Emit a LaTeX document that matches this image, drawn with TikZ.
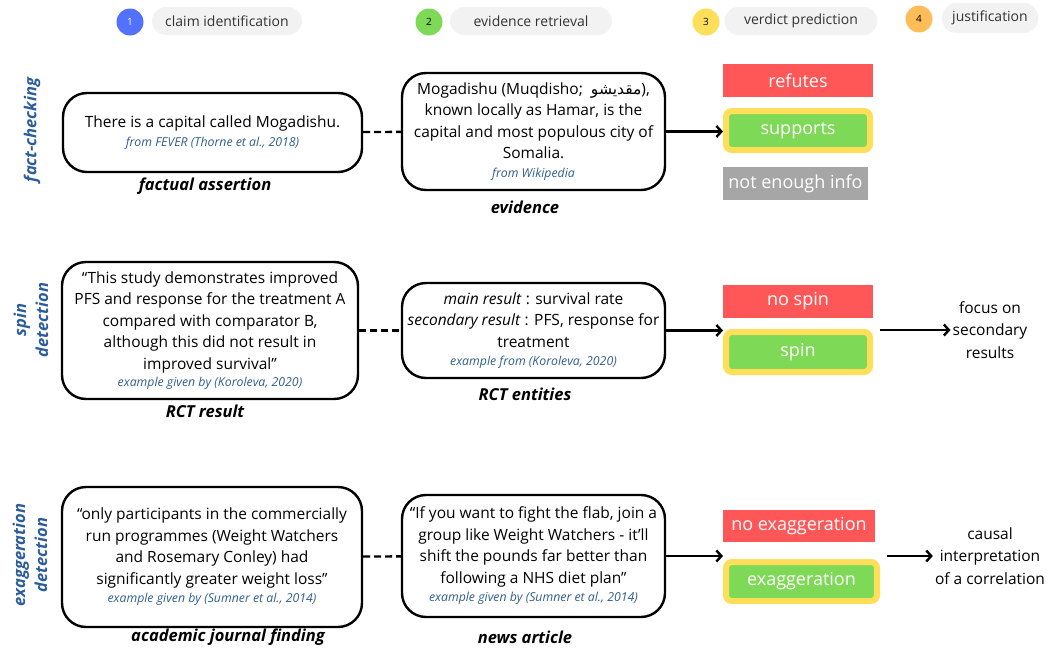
\documentclass[tikz,border=0pt]{standalone}
\usepackage{fontspec}
\usepackage{xcolor}
\usepackage{tikz}
\usetikzlibrary{calc,arrows.meta}
\setmainfont{Open Sans}
\newfontfamily\arabicfont[Script=Arabic]{DejaVu Sans}
\TeXXeTstate=1
\definecolor{srcblue}{HTML}{2F5E8E}
\definecolor{rowblue}{HTML}{2B5C9B}
\definecolor{refred}{HTML}{FF5757}
\definecolor{supgreen}{HTML}{7ED957}
\definecolor{selyellow}{HTML}{FFDE59}
\definecolor{nogray}{HTML}{A6A6A6}
\definecolor{stepblue}{HTML}{5271FF}
\definecolor{steporange}{HTML}{FFBD59}
\definecolor{pillgray}{HTML}{F2F2F2}
\newcommand{\src}[1]{{\fontsize{12.3}{14}\selectfont\itshape\color{srcblue}#1}}

\begin{document}
\begin{tikzpicture}[x=1pt,y=-1pt,
	box/.style={draw,line width=2.4pt,rounded corners=24pt,align=center,inner sep=0pt,font=\fontsize{15.5}{21.5}\selectfont},
	role/.style={font=\fontsize{16.5}{18}\selectfont\bfseries\itshape},
	task/.style={rotate=90,align=center,text=rowblue,font=\fontsize{16.5}{22}\selectfont\bfseries\itshape},
	verdict/.style={minimum width=150pt,minimum height=33pt,inner sep=0pt,text=white,font=\fontsize{18}{20}\selectfont},
	chosen/.style={verdict,fill=supgreen,draw=selyellow,line width=6pt,rounded corners=6pt,minimum width=144pt,minimum height=39pt},
	why/.style={align=center,inner sep=2pt,font=\fontsize{15.5}{22.5}\selectfont},
	pill/.style={fill=pillgray,rounded corners=14pt,minimum height=28pt,inner sep=0pt,text=black!80,font=\fontsize{14}{16}\selectfont},
	stepnum/.style={circle,minimum size=27pt,inner sep=0pt,font=\fontsize{10}{12}\selectfont},
	arr/.style={line width=2.4pt,-{Straight Barb[length=5pt,width=11pt]}},
	link/.style={line width=2.4pt,dash pattern=on 7pt off 4pt}]
	
	\useasboundingbox (0,0) rectangle (1053,653);
	
	%legend
	\node[stepnum,fill=stepblue,text=white] (n1) at (130,22){1};
	\node[pill,minimum width=150pt] (l1) at (227,21){claim identification};
	\node[stepnum,fill=supgreen] (n2) at (429,22){2};
	\node[pill,minimum width=162pt] (l2) at (531,21){evidence retrieval};
	\node[stepnum,fill=selyellow] (n3) at (706,22){3};
	\node[pill,minimum width=153pt] (l3) at (801,21){verdict prediction};
	\node[stepnum,fill=steporange] (n4) at (919,19){4};
	\node[pill,minimum width=96pt,minimum height=30pt] (l4) at (990,18){justification};
	
	%tasks
	\node[task] (t1) at (32,130){fact-checking};
	\node[task] (t2) at (31,320){spin\\detection};
	\node[task] (t3) at (30,555){exaggeration\\detection};
	
	%fact-checking
	\node[box,minimum width=299pt,minimum height=79pt] (b1) at (212.5,132.5){There is a capital called Mogadishu.\\[-3pt]
		\src{from FEVER (Thorne et al., 2018)}};
	\node[box,minimum width=263pt,minimum height=117pt] (b2) at (533.5,131.5){Mogadishu (Muqdisho;~ {\arabicfont\beginR مقديشو\endR}),\\
		known locally as Hamar, is the\\capital and most populous city of\\Somalia.\\[-3pt]
		\src{from Wikipedia}};
	\node[role] (r1) at (205,186){factual assertion};
	\node[role] (r2) at (525,207){evidence};
	\node[verdict,fill=refred] (ref) at (798,80.5){refutes};
	\node[chosen] (sup) at (798,130.5){supports};
	\node[verdict,fill=nogray,minimum width=145pt] (nei) at (795.5,183.5){not enough info};
	
	%spin detection
	\node[box,minimum width=296pt,minimum height=137pt] (b3) at (210,330.5){“This study demonstrates improved\\
		PFS and response for the treatment A\\compared with comparator B,\\although this did not result in\\improved survival”\\[-4pt]
		\src{example given by (Koroleva, 2020)}};
	\node[box,minimum width=263pt,minimum height=95pt] (b4) at (533.5,330.5){\textit{main result} : survival rate\\
		\textit{secondary result} : PFS, response for\\treatment\\[-3pt]
		\src{example from (Koroleva, 2020)}};
	\node[role] (r3) at (205,411){RCT result};
	\node[role] (r4) at (525,394){RCT entities};
	\node[verdict,fill=refred] (ns) at (798,301.5){no spin};
	\node[chosen,minimum height=40pt] (sp) at (798,352){spin};
	\node[why] (j2) at (990,330){focus on\\secondary\\results};
	
	%exaggeration detection
	\node[box,minimum width=300pt,minimum height=140pt] (b5) at (212,557){“only participants in the commercially\\
		run programmes (Weight Watchers\\and Rosemary Conley) had\\significantly greater weight loss”\\[-3pt]
		\src{example given by (Sumner et al., 2014)}};
	\node[box,minimum width=263pt,minimum height=122pt] (b6) at (533.5,556){“If you want to fight the flab, join a\\
		group like Weight Watchers - it’ll\\shift the pounds far better than\\following a NHS diet plan”\\[-3pt]
		\src{example given by (Sumner et al., 2014)}};
	\node[role] (r5) at (228,637){academic journal finding};
	\node[role] (r6) at (525,637){news article};
	\node[verdict,fill=refred,minimum width=152pt,minimum height=32pt] (nex) at (799,526){no exaggeration};
	\node[chosen,minimum width=151pt] (ex) at (801.5,581.5){exaggeration};
	\node[why] (j3) at (990,556){causal\\interpretation\\of a correlation};
	
	%edges
	\draw[link] (b1) -- (b2);
	\draw[link] (b3) -- (b4);
	\draw[link] (b5) -- (b6);
	\draw[arr] (b2.east) -- (b2.east -| sup.west);
	\draw[arr] (b4.east) -- (b4.east -| sp.west);
	\draw[arr] (b6.east) -- (b6.east -| ex.west);
	\draw[arr] (sp.east |- j2.west) ++(7,0) -- (j2.west);
	\draw[arr] (ex.east |- j3.west) ++(7,0) -- (j3.west);
	
\end{tikzpicture}
\end{document}
